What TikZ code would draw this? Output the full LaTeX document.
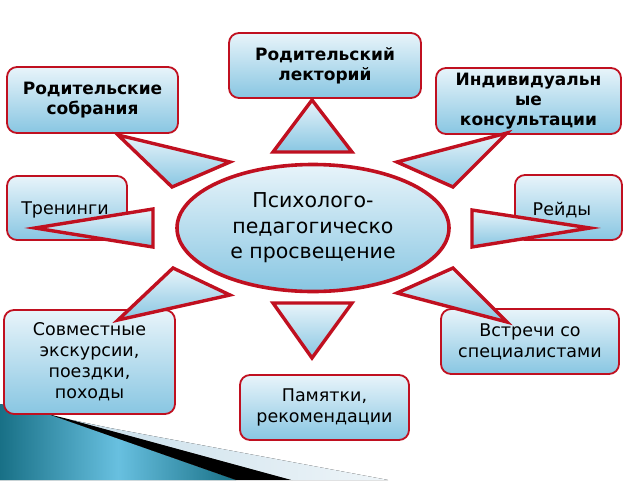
\documentclass[tikz,border=0pt]{standalone}
\usepackage{fontspec}
\setmainfont{DejaVu Sans}
\usetikzlibrary{shapes.geometric}
\definecolor{bred}{RGB}{192,16,32}
\definecolor{btop}{RGB}{232,244,250}
\definecolor{bbot}{RGB}{136,198,226}
\definecolor{tealA}{RGB}{24,112,134}
\definecolor{tealB}{RGB}{104,192,224}
\definecolor{stripe}{RGB}{200,222,234}
\begin{document}
\begin{tikzpicture}[x=1pt,y=-1pt,
  box/.style={draw=bred, line width=1.8pt, rounded corners=10pt,
    top color=btop, bottom color=bbot, align=center, inner sep=0pt,
    font=\fontsize{17.5}{21}\selectfont},
  boldbox/.style={box, font=\fontsize{17}{20}\selectfont\bfseries},
  tri/.style={draw=bred, line width=3.4pt, line join=miter,
    top color=btop, bottom color=bbot},
  center/.style={draw=bred, line width=3.6pt, ellipse, inner sep=0pt,
    top color=btop, bottom color=bbot, align=center,
    font=\fontsize{20.5}{25.5}\selectfont}]
\useasboundingbox (0,0) rectangle (640,480);
% corner decoration
\fill[left color=tealA, right color=tealA, middle color=tealB]
  (0,404) -- (48,414) -- (236,480) -- (0,480) -- cycle;
\fill[black] (48,414) -- (72,420) -- (292,480) -- (236,480) -- cycle;
\fill[left color=stripe, right color=stripe!30!white]
  (72,420) -- (110,428) -- (388,480) -- (292,480) -- cycle;
% boxes
\node[boldbox, minimum width=192, minimum height=65] (lect) at (325,65.5) {Родительский\\лекторий};
\node[boldbox, minimum width=171, minimum height=66] (sobr) at (92.5,100) {Родительские\\собрания};
\node[boldbox, minimum width=185, minimum height=66] (ind) at (528.5,101) {Индивидуальн\\ые\\консультации};
\node[box, minimum width=120, minimum height=64] (tren) at (67,208) {};
\node[font=\fontsize{17.5}{21}\selectfont] (trent) at (65,210) {Тренинги};
\node[box, minimum width=107, minimum height=65] (reid) at (568.5,207.5) {};
\node[font=\fontsize{17.5}{21}\selectfont] (reidt) at (562,210) {Рейды};
\node[box, minimum width=171, minimum height=104] (sovm) at (89.5,362) {Совместные\\экскурсии,\\поездки,\\походы};
\node[box, minimum width=178, minimum height=65] (vstr) at (530,341.5) {Встречи со\\специалистами};
\node[box, minimum width=169, minimum height=65] (pam) at (324.5,407.5) {Памятки,\\рекомендации};
% triangles
\draw[tri] (273,152) -- (312,100) -- (352,152) -- cycle;
\draw[tri] (118,135) -- (230,162) -- (172,187) -- cycle;
\draw[tri] (35,228) -- (153,209) -- (153,247) -- cycle;
\draw[tri] (397,162) -- (507,133) -- (453,187) -- cycle;
\draw[tri] (472,210) -- (590,228) -- (472,247) -- cycle;
\draw[tri] (173,268) -- (230,295) -- (118,320) -- cycle;
\draw[tri] (273,303) -- (352,303) -- (312,358) -- cycle;
\draw[tri] (397,293) -- (453,268) -- (507,322) -- cycle;
% centre
\node[center, minimum width=272, minimum height=127] (mid) at (313,228)
  {Психолого-\\педагогическо\\е просвещение};
\end{tikzpicture}
\end{document}
